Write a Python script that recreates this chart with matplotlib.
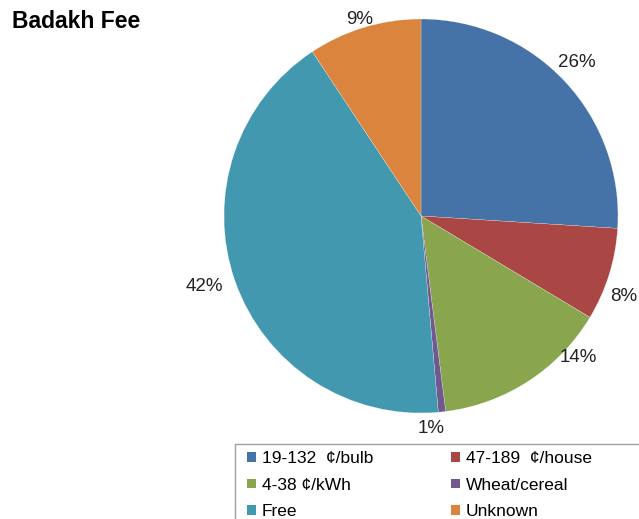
import matplotlib.pyplot as plt
from matplotlib.patches import Patch, Rectangle

plt.rcParams['font.family'] = ['Liberation Sans', 'DejaVu Sans']

# slice data, clockwise from 12 o'clock
categories = ['19-132  \u00a2/bulb', '47-189  \u00a2/house', '4-38 \u00a2/kWh',
              'Wheat/cereal', 'Free', 'Unknown']
shares = [26.0, 7.6, 14.4, 0.6, 42.1, 9.3]
colors = ['#4572A7', '#AA4643', '#89A54E', '#71588F', '#4198AF', '#DB843D']

# where each percentage label sits (pie radius = 1)
label_pos = [(0.79, 0.78), (1.03, -0.41), (0.80, -0.72),
             (0.05, -1.08), (-1.10, -0.36), (-0.31, 1.0)]

W, H = 639, 519
fig = plt.figure(figsize=(W / 100, H / 100), dpi=100)

cx, cy, r = 421, 216, 197
ax = fig.add_axes([(cx - r) / W, (H - cy - r) / H, 2 * r / W, 2 * r / H])
wedges, texts, autotexts = ax.pie(
    shares, colors=colors, startangle=90, counterclock=False,
    autopct='%.0f%%', radius=1,
    wedgeprops=dict(edgecolor='white', linewidth=0.15),
    textprops=dict(fontsize=13.5, color='#222222'))
for t, (x, y) in zip(autotexts, label_pos):
    t.set_position((x, y))
    t.set_ha('center')
    t.set_va('center')
    t.set_clip_on(False)
ax.set_xlim(-1, 1)
ax.set_ylim(-1, 1)

fig.text(12 / W, 1 - 22 / H, 'Badakh Fee', fontsize=16.5, fontweight='bold',
         ha='left', va='center')

# legend box, cut off by the figure edge like the original
fig.patches.append(Rectangle((235 / W, (H - 530) / H), 430 / W, 86 / H,
                             transform=fig.transFigure, facecolor='white',
                             edgecolor='#A0A0A0', linewidth=1.0))
handles = [Patch(facecolor=c, edgecolor='none') for c in colors]
# matplotlib fills legend columns first; reorder so entries read row by row
order = [0, 2, 4, 1, 3, 5]
fig.legend([handles[i] for i in order], [categories[i] for i in order],
           ncol=2, loc='upper left', bbox_to_anchor=(247 / W, 1 - 451 / H),
           frameon=False, fontsize=12.5, handlelength=0.5, handleheight=0.5,
           handletextpad=0.35, columnspacing=4.49, labelspacing=0.67,
           borderpad=0.0, borderaxespad=0.0)

fig.savefig('out.png', dpi=100)
